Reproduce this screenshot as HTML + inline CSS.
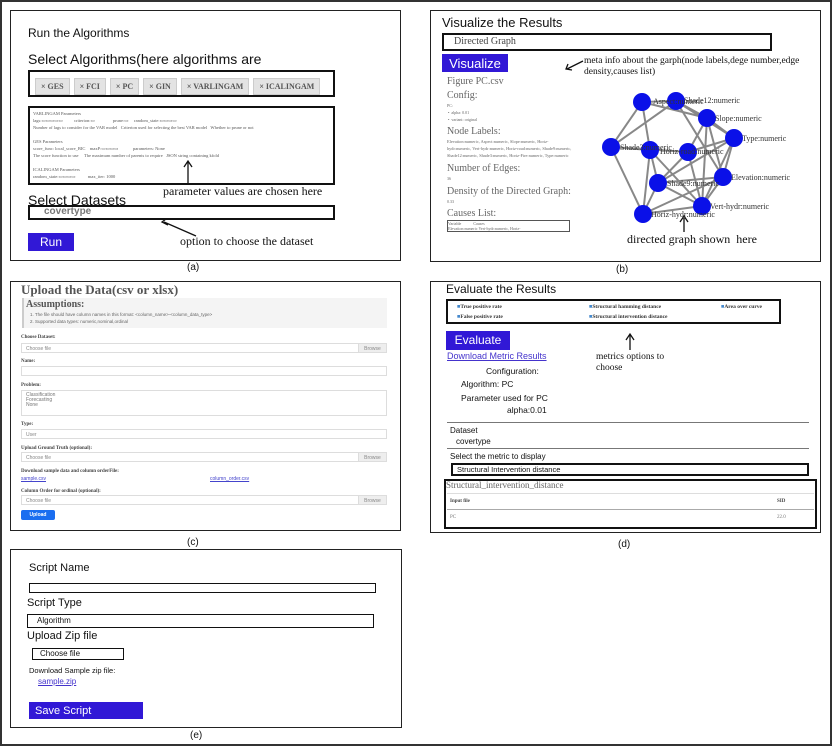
<!DOCTYPE html>
<html><head><meta charset="utf-8"><style>
*{margin:0;padding:0;box-sizing:border-box}
body{width:832px;height:746px;position:relative;background:#fff;font-family:"Liberation Sans",sans-serif;overflow:hidden;color:#111}
.a{position:absolute;white-space:nowrap}
.bx{position:absolute;border:2px solid #111}
.pn{position:absolute;border:1.5px solid #222}
.sf{font-family:"Liberation Serif",serif}
.btn{position:absolute;background:#3118d6;color:#fff}
.g{color:#666}
.in{position:absolute;border:1px solid #ddd;background:#fff;font-size:5px;color:#888;padding:2px 4px}
.br{position:absolute;right:0;top:0;bottom:0;width:28px;background:#eee;border-left:1px solid #ddd;font-size:5px;padding-top:2px;text-align:center}
.lb{position:absolute;font-size:5px;font-weight:bold;color:#444;font-family:"Liberation Serif",serif}
.chip{display:inline-block;background:#e3e3e3;border:1px solid #ccc;font-family:"Liberation Serif",serif;font-size:8px;font-weight:bold;color:#555;padding:3px 5px;margin-right:4px}
</style></head><body>
<div style="position:absolute;left:0;top:0;width:832px;height:746px;border:2px solid #333"></div>

<!-- (a) -->
<div class="pn" style="left:10px;top:10px;width:391px;height:251px"></div>
<div class="a" style="left:28px;top:26px;font-size:12px">Run the Algorithms</div>
<div class="a" style="left:28px;top:51px;font-size:14px">Select Algorithms(here algorithms are</div>
<div class="bx" style="left:28px;top:70px;width:307px;height:27px;padding:4px 5px"><span class="chip">× GES</span><span class="chip">× FCI</span><span class="chip">× PC</span><span class="chip">× GIN</span><span class="chip">× VARLINGAM</span><span class="chip">× ICALINGAM</span></div>
<div class="bx sf" style="left:28px;top:106px;width:307px;height:79px;font-size:4.5px;color:#555;padding:2px 3px;line-height:7px">VARLINGAM Parameters<br>lags:▭▭▭▭▭ &nbsp;&nbsp;&nbsp;&nbsp;&nbsp;&nbsp;&nbsp;&nbsp; criterion:▭ &nbsp;&nbsp;&nbsp;&nbsp;&nbsp;&nbsp;&nbsp;&nbsp;&nbsp;&nbsp;&nbsp;&nbsp;&nbsp;&nbsp; prune:▭ &nbsp;&nbsp;&nbsp; random_state:▭▭▭▭<br>Number of lags to consider for the VAR model &nbsp; Criterion used for selecting the best VAR model &nbsp; Whether to prune or not<br><br>GES Parameters<br>score_func: local_score_BIC &nbsp;&nbsp; maxP:▭▭▭▭ &nbsp;&nbsp;&nbsp;&nbsp;&nbsp;&nbsp;&nbsp;&nbsp;&nbsp;&nbsp;&nbsp; parameters: None<br>The score function to use &nbsp;&nbsp;&nbsp; The maximum number of parents to require &nbsp; JSON string containing kfold<br><br>ICALINGAM Parameters<br>random_state:▭▭▭▭ &nbsp;&nbsp;&nbsp;&nbsp;&nbsp;&nbsp;&nbsp;&nbsp;&nbsp; max_iter: 1000</div>
<div class="a sf" style="left:163px;top:184px;font-size:12px">parameter values are chosen here</div>
<svg class="a" style="left:0;top:0" width="832" height="746">
<g stroke="#111" stroke-width="1.3" fill="none">
<path d="M188 183V162M184 167L188 161L192 167"/>
<path d="M196 236L164 222M166 219L162 222L168 225"/>
<path d="M684 232V218M680 222L684 216L688 222"/>
<path d="M630 350V335M626 340L630 334L634 340"/>
<path d="M583 61L567 69M568 64L566 69L572 70"/>
</g>
<g stroke="#888" stroke-width="2">
<line x1="642" y1="102" x2="676" y2="101"/><line x1="642" y1="102" x2="611" y2="147"/><line x1="642" y1="102" x2="650" y2="150"/><line x1="642" y1="102" x2="707" y2="118"/>
<line x1="676" y1="101" x2="707" y2="118"/><line x1="676" y1="101" x2="734" y2="138"/><line x1="676" y1="101" x2="723" y2="177"/><line x1="676" y1="101" x2="611" y2="147"/>
<line x1="707" y1="118" x2="688" y2="152"/><line x1="707" y1="118" x2="723" y2="177"/><line x1="707" y1="118" x2="702" y2="206"/><line x1="707" y1="118" x2="734" y2="138"/>
<line x1="734" y1="138" x2="688" y2="152"/><line x1="734" y1="138" x2="723" y2="177"/><line x1="734" y1="138" x2="702" y2="206"/><line x1="734" y1="138" x2="658" y2="183"/>
<line x1="611" y1="147" x2="688" y2="152"/><line x1="611" y1="147" x2="643" y2="214"/><line x1="650" y1="150" x2="658" y2="183"/><line x1="650" y1="150" x2="702" y2="206"/>
<line x1="688" y1="152" x2="658" y2="183"/><line x1="688" y1="152" x2="702" y2="206"/><line x1="658" y1="183" x2="723" y2="177"/><line x1="658" y1="183" x2="643" y2="214"/>
<line x1="643" y1="214" x2="702" y2="206"/><line x1="643" y1="214" x2="723" y2="177"/><line x1="643" y1="214" x2="650" y2="150"/><line x1="702" y1="206" x2="723" y2="177"/>
<line x1="658" y1="183" x2="702" y2="206"/><line x1="611" y1="147" x2="650" y2="150"/>
</g>
<g fill="#0a10e8">
<circle cx="642" cy="102" r="9"/><circle cx="676" cy="101" r="9"/><circle cx="707" cy="118" r="9"/><circle cx="734" cy="138" r="9"/><circle cx="611" cy="147" r="9"/><circle cx="650" cy="150" r="9"/><circle cx="688" cy="152" r="9"/><circle cx="723" cy="177" r="9"/><circle cx="658" cy="183" r="9"/><circle cx="702" cy="206" r="9"/><circle cx="643" cy="214" r="9"/>
</g>
<g font-family="Liberation Serif,serif" font-size="8" fill="#333">
<text x="653" y="104">Aspect:numeric</text><text x="684" y="103">Shade12:numeric</text><text x="715" y="121">Slope:numeric</text><text x="742" y="141">Type:numeric</text>
<text x="620" y="150">Shade3:numeric</text><text x="660" y="154">Horiz-road:numeric</text><text x="731" y="180">Elevation:numeric</text><text x="667" y="186">Shade9:numeric</text><text x="710" y="209">Vert-hydr:numeric</text><text x="651" y="217">Horiz-hydr:numeric</text>
</g>
</svg>
<div class="a" style="left:28px;top:192px;font-size:14px">Select Datasets</div>
<div class="bx" style="left:28px;top:205px;width:307px;height:15px;font-size:10px;font-weight:bold;color:#777;padding-left:14px;line-height:10px">covertype</div>
<div class="btn" style="left:28px;top:233px;width:46px;height:18px;font-size:12px;text-align:center;line-height:18px">Run</div>
<div class="a sf" style="left:180px;top:234px;font-size:12px">option to choose the dataset</div>
<div class="a" style="left:187px;top:262px;font-size:10px">(a)</div>

<!-- (b) -->
<div class="pn" style="left:430px;top:10px;width:391px;height:252px"></div>
<div class="a" style="left:442px;top:15px;font-size:13px">Visualize the Results</div>
<div class="bx sf" style="left:442px;top:33px;width:330px;height:18px;font-size:10px;color:#444;padding-left:10px;line-height:14px">Directed Graph</div>
<div class="btn" style="left:442px;top:54px;width:66px;height:18px;font-size:13px;text-align:center;line-height:20px">Visualize</div>
<div class="a sf" style="left:584px;top:56px;font-size:9.5px;line-height:11px">meta info about the garph(node labels,dege number,edge<br>density,causes list)</div>
<div class="a sf g" style="left:447px;top:76px;font-size:9px;line-height:12px;white-space:normal;width:125px">
<div style="font-size:10px">Figure PC.csv</div>
<div style="font-size:10px;margin-top:2px">Config:</div>
<div style="font-size:4px;line-height:7px">PC:<br>&nbsp;•&nbsp; alpha: 0.01<br>&nbsp;•&nbsp; variant: original</div>
<div style="font-size:10px;margin-top:3px">Node Labels:</div>
<div style="font-size:4.3px;line-height:7px">Elevation:numeric, Aspect:numeric, Slope:numeric, Horiz-hydr:numeric, Vert-hydr:numeric, Horiz-road:numeric, Shade9:numeric, Shade12:numeric, Shade3:numeric, Horiz-Fire:numeric, Type:numeric</div>
<div style="font-size:10px;margin-top:4px">Number of Edges:</div><div style="font-size:4px;line-height:8px">36</div>
<div style="font-size:10px;margin-top:3px">Density of the Directed Graph:</div><div style="font-size:4px;line-height:8px">0.33</div>
<div style="font-size:10px;margin-top:2px">Causes List:</div>
<div style="border:1px solid #555;height:12px;font-size:4px;line-height:5px;width:123px">Variable &nbsp;&nbsp;&nbsp;&nbsp;&nbsp;&nbsp;&nbsp;&nbsp;&nbsp;&nbsp; Causes<br>Elevation:numeric Vert-hydr:numeric, Horiz-</div>
</div>
<div class="a sf" style="left:627px;top:232px;font-size:12px">directed graph shown &nbsp;here</div>
<div class="a" style="left:616px;top:264px;font-size:10px">(b)</div>

<!-- (c) -->
<div class="pn" style="left:10px;top:281px;width:391px;height:250px"></div>
<div class="a sf" style="left:21px;top:282px;font-size:13px;font-weight:bold;color:#555">Upload the Data(csv or xlsx)</div>
<div style="position:absolute;left:22px;top:298px;width:365px;height:30px;background:#f4f4f4;border-left:2px solid #ccc"></div>
<div class="a sf" style="left:26px;top:299px;font-size:10px;font-weight:bold;color:#555">Assumptions:</div>
<div class="a" style="left:30px;top:311px;font-size:4.5px;color:#666;line-height:7px">1. The file should have column names in this format: &lt;column_name&gt;-&lt;column_data_type&gt;<br>2. Supported data types: numeric,nominal,ordinal</div>
<div class="lb" style="left:21px;top:335px">Choose Dataset:</div>
<div class="in" style="left:21px;top:343px;width:366px;height:10px">Choose file<div class="br">Browse</div></div>
<div class="lb" style="left:21px;top:359px">Name:</div>
<div class="in" style="left:21px;top:366px;width:366px;height:10px"></div>
<div class="lb" style="left:21px;top:383px">Problem:</div>
<div class="in" style="left:21px;top:390px;width:366px;height:26px;line-height:5px;color:#777">Classification<br>Forecasting<br>None</div>
<div class="lb" style="left:21px;top:422px">Type:</div>
<div class="in" style="left:21px;top:429px;width:366px;height:10px">User</div>
<div class="lb" style="left:21px;top:446px">Upload Ground Truth (optional):</div>
<div class="in" style="left:21px;top:452px;width:366px;height:10px">Choose file<div class="br">Browse</div></div>
<div class="lb" style="left:21px;top:469px">Download sample data and column orderFile:</div>
<div class="a" style="left:21px;top:476px;font-size:5px;color:#44c;text-decoration:underline">sample.csv</div>
<div class="a" style="left:210px;top:476px;font-size:5px;color:#44c;text-decoration:underline">column_order.csv</div>
<div class="lb" style="left:21px;top:489px">Column Order for ordinal (optional):</div>
<div class="in" style="left:21px;top:495px;width:366px;height:10px">Choose file<div class="br">Browse</div></div>
<div style="position:absolute;left:21px;top:510px;width:34px;height:10px;background:#1a6ef0;border-radius:2px;color:#fff;font-size:5px;font-weight:bold;text-align:center;line-height:10px">Upload</div>
<div class="a" style="left:187px;top:537px;font-size:10px">(c)</div>

<!-- (d) -->
<div class="pn" style="left:430px;top:281px;width:391px;height:252px"></div>
<div class="a" style="left:446px;top:282px;font-size:12px">Evaluate the Results</div>
<div class="bx" style="left:446px;top:299px;width:335px;height:25px"></div>
<div class="a sf" style="left:457px;top:302px;font-size:5.5px;font-weight:bold;color:#333;line-height:10px"><span style="color:#48c">■</span>True positive rate<br><span style="color:#48c">■</span>False positive rate</div>
<div class="a sf" style="left:589px;top:302px;font-size:5.5px;font-weight:bold;color:#333;line-height:10px"><span style="color:#48c">■</span>Structural hamming distance<br><span style="color:#48c">■</span>Structural intervention distance</div>
<div class="a sf" style="left:721px;top:302px;font-size:5.5px;font-weight:bold;color:#333;line-height:10px"><span style="color:#48c">■</span>Area over curve</div>
<div class="btn" style="left:446px;top:331px;width:64px;height:19px;font-size:12px;text-align:center;line-height:19px">Evaluate</div>
<div class="a" style="left:447px;top:351px;font-size:9px;color:#4433cc;text-decoration:underline">Download Metric Results</div>
<div class="a sf" style="left:596px;top:352px;font-size:9.5px;line-height:11px">metrics options to<br>choose</div>
<div class="a" style="left:486px;top:366px;font-size:8.5px">Configuration:</div>
<div class="a" style="left:461px;top:379px;font-size:8.5px">Algorithm: PC</div>
<div class="a" style="left:461px;top:393px;font-size:8.5px">Parameter used for PC</div>
<div class="a" style="left:507px;top:405px;font-size:8.5px">alpha:0.01</div>
<div style="position:absolute;left:447px;top:422px;width:362px;height:1px;background:#777"></div>
<div class="a" style="left:450px;top:426px;font-size:8px">Dataset</div>
<div class="a" style="left:456px;top:437px;font-size:8px">covertype</div>
<div style="position:absolute;left:447px;top:448px;width:362px;height:1px;background:#777"></div>
<div class="a" style="left:450px;top:452px;font-size:8px">Select the metric to display</div>
<div class="bx" style="left:451px;top:463px;width:358px;height:13px;font-size:7.5px;padding-left:4px;line-height:10px">Structural Intervention distance</div>
<div class="bx" style="left:444px;top:479px;width:373px;height:50px"></div>
<div class="a sf" style="left:446px;top:480px;font-size:9px;color:#666">Structural_intervention_distance</div>
<div style="position:absolute;left:447px;top:493px;width:367px;height:1px;background:#ddd"></div>
<div class="a sf" style="left:450px;top:499px;font-size:5px;font-weight:bold;color:#444">Input file</div>
<div class="a sf" style="left:777px;top:499px;font-size:5px;font-weight:bold;color:#444">SID</div>
<div style="position:absolute;left:447px;top:509px;width:367px;height:1px;background:#aaa"></div>
<div class="a sf" style="left:450px;top:515px;font-size:5px;color:#777">PC</div>
<div class="a sf" style="left:777px;top:515px;font-size:5px;color:#777">22.0</div>
<div class="a" style="left:618px;top:539px;font-size:10px">(d)</div>

<!-- (e) -->
<div class="pn" style="left:10px;top:549px;width:392px;height:179px"></div>
<div class="a" style="left:29px;top:562px;font-size:11px">Script Name</div>
<div class="bx" style="left:29px;top:583px;width:347px;height:10px;border-width:1.5px"></div>
<div class="a" style="left:27px;top:597px;font-size:11px">Script Type</div>
<div class="bx" style="left:27px;top:614px;width:347px;height:14px;border-width:1.5px;font-size:8px;padding-left:9px;line-height:11px">Algorithm</div>
<div class="a" style="left:27px;top:630px;font-size:11px">Upload Zip file</div>
<div class="bx" style="left:32px;top:648px;width:92px;height:12px;border-width:1.5px;font-size:8px;padding-left:7px;line-height:9px">Choose file</div>
<div class="a" style="left:29px;top:666px;font-size:7.5px">Download Sample zip file:</div>
<div class="a" style="left:38px;top:677px;font-size:8px;color:#4433cc;text-decoration:underline">sample.zip</div>
<div class="btn" style="left:29px;top:702px;width:114px;height:17px;font-size:11px;padding-left:6px;line-height:18px">Save Script</div>
<div class="a" style="left:190px;top:730px;font-size:10px">(e)</div>
</body></html>
